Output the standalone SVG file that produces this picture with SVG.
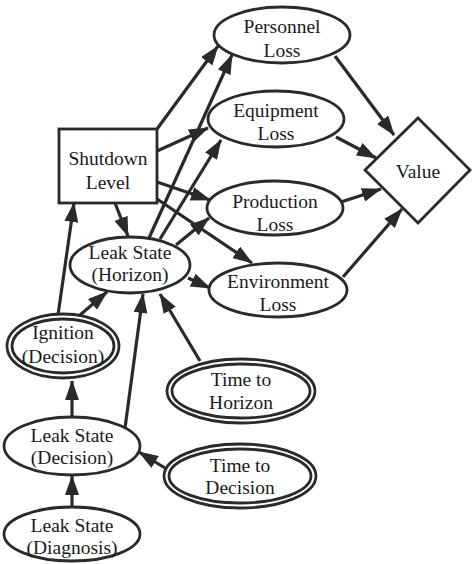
<svg xmlns="http://www.w3.org/2000/svg" width="474" height="564" viewBox="0 0 474 564">
<defs>
<marker id="ah" viewBox="0 0 20 14" refX="19" refY="7" markerWidth="20" markerHeight="14" markerUnits="userSpaceOnUse" orient="auto">
<path d="M0,0 L20,7 L0,14 z" fill="#2a2a2a"/>
</marker>
</defs>
<style>
.n{fill:#fff;stroke:#2a2a2a;stroke-width:2.8}
.t{font-family:"Liberation Serif","Times New Roman",serif;font-size:19.5px;fill:#1a1a1a;text-anchor:middle}
.e{fill:none;stroke:#2a2a2a;stroke-width:3.2;marker-end:url(#ah)}
</style>
<rect width="474" height="564" fill="#fff"/>
<g id="connectors">
<line class="e" x1="157" y1="129" x2="218" y2="46"/>
<line class="e" x1="157" y1="151" x2="208" y2="128"/>
<line class="e" x1="157" y1="182" x2="210" y2="200"/>
<line class="e" x1="157" y1="199" x2="252" y2="263"/>
<line class="e" x1="115" y1="203" x2="128" y2="236"/>
<line class="e" x1="149" y1="238" x2="232" y2="55"/>
<line class="e" x1="160" y1="239" x2="221" y2="140"/>
<line class="e" x1="176" y1="245" x2="209" y2="218"/>
<line class="e" x1="188" y1="278" x2="210" y2="288"/>
<line class="e" x1="335" y1="56" x2="394" y2="135"/>
<line class="e" x1="336" y1="137" x2="376" y2="158"/>
<line class="e" x1="341" y1="202" x2="381" y2="189"/>
<line class="e" x1="343" y1="277" x2="402" y2="209"/>
<line class="e" x1="58" y1="315" x2="74" y2="203"/>
<line class="e" x1="80" y1="315" x2="107" y2="292"/>
<line class="e" x1="72" y1="417" x2="72" y2="381"/>
<line class="e" x1="125" y1="428" x2="143" y2="294"/>
<line class="e" x1="200" y1="361" x2="160" y2="294"/>
<line class="e" x1="165" y1="468" x2="139" y2="452"/>
<line class="e" x1="72" y1="506" x2="72" y2="476"/>
</g>
<g id="personnel-loss">
<ellipse class="n" cx="282" cy="35" rx="68" ry="28"/>
<text class="t" x="282" y="33">Personnel</text>
<text class="t" x="282" y="57">Loss</text>
</g>
<g id="equipment-loss">
<ellipse class="n" cx="276" cy="119" rx="68" ry="28"/>
<text class="t" x="276" y="117">Equipment</text>
<text class="t" x="276" y="140">Loss</text>
</g>
<g id="production-loss">
<ellipse class="n" cx="275" cy="208" rx="68" ry="27"/>
<text class="t" x="275" y="208">Production</text>
<text class="t" x="275" y="231">Loss</text>
</g>
<g id="environment-loss">
<ellipse class="n" cx="278" cy="290" rx="69" ry="27"/>
<text class="t" x="278" y="288">Environment</text>
<text class="t" x="278" y="311">Loss</text>
</g>
<g id="value">
<path class="n" d="M418,118 L470,170 L418,223 L365,170 Z"/>
<text class="t" x="418" y="178">Value</text>
</g>
<g id="shutdown-level">
<rect class="n" x="59" y="129" width="98" height="74"/>
<text class="t" x="108" y="165">Shutdown</text>
<text class="t" x="108" y="189">Level</text>
</g>
<g id="leak-state-horizon">
<ellipse class="n" cx="130" cy="265" rx="60" ry="28"/>
<text class="t" x="130" y="259">Leak State</text>
<text class="t" x="130" y="281">(Horizon)</text>
</g>
<g id="ignition-decision">
<ellipse class="n" cx="63" cy="346" rx="56" ry="32"/>
<ellipse class="n" cx="63" cy="346" rx="51" ry="27"/>
<text class="t" x="63" y="339">Ignition</text>
<text class="t" x="63" y="363">(Decision)</text>
</g>
<g id="time-to-horizon">
<ellipse class="n" cx="241" cy="391" rx="74" ry="32"/>
<ellipse class="n" cx="241" cy="391" rx="69" ry="27"/>
<text class="t" x="241" y="386">Time to</text>
<text class="t" x="241" y="409">Horizon</text>
</g>
<g id="leak-state-decision">
<ellipse class="n" cx="72" cy="446" rx="68" ry="29"/>
<text class="t" x="72" y="442">Leak State</text>
<text class="t" x="72" y="464">(Decision)</text>
</g>
<g id="time-to-decision">
<ellipse class="n" cx="240" cy="476" rx="76" ry="32"/>
<ellipse class="n" cx="240" cy="476" rx="71" ry="27"/>
<text class="t" x="240" y="472">Time to</text>
<text class="t" x="240" y="494">Decision</text>
</g>
<g id="leak-state-diagnosis">
<ellipse class="n" cx="72" cy="534" rx="68" ry="27"/>
<text class="t" x="72" y="532">Leak State</text>
<text class="t" x="72" y="554">(Diagnosis)</text>
</g>
</svg>
